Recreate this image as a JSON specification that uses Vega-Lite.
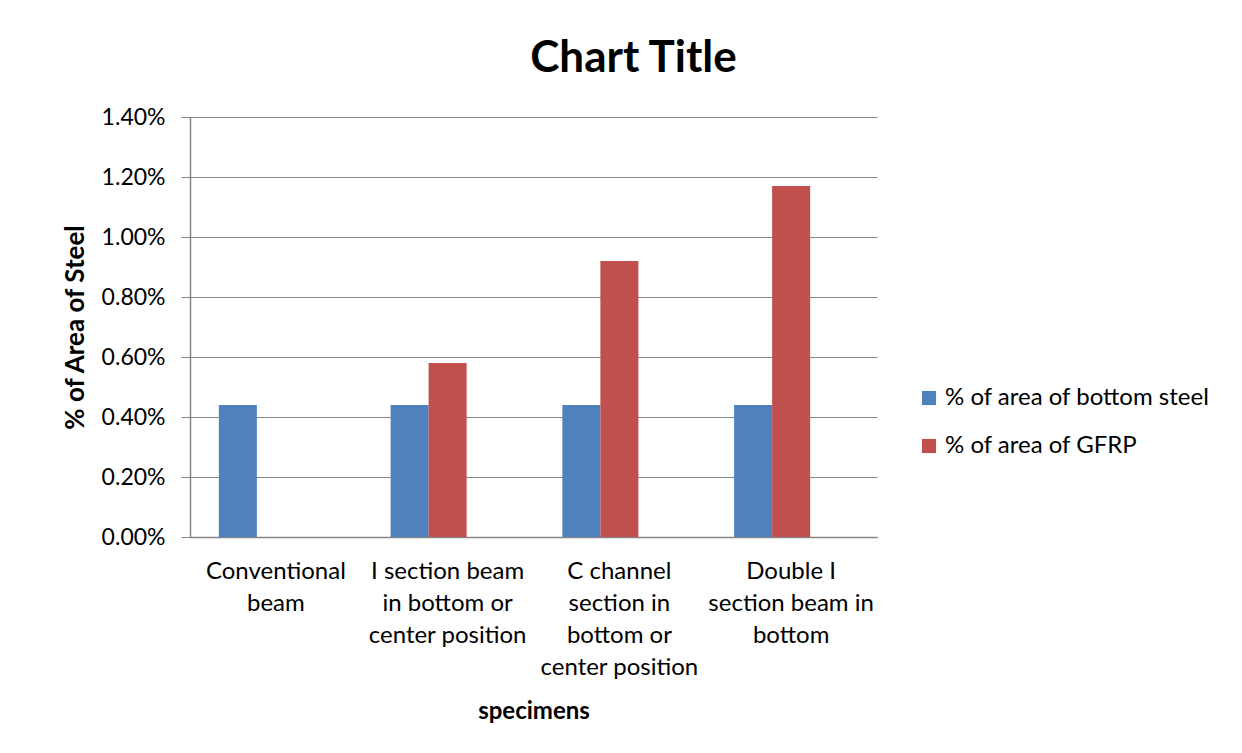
{
  "$schema": "https://vega.github.io/schema/vega-lite/v6.json",
  "width": 687,
  "height": 420,
  "autosize": {"type": "none"},
  "padding": {"left": 190, "top": 117, "right": 365, "bottom": 216},
  "background": "white",
  "title": {
    "text": "Chart Title",
    "anchor": "middle",
    "frame": "group",
    "dx": 100,
    "offset": 25,
    "font": "Lato",
    "fontSize": 44,
    "fontWeight": "bold",
    "color": "#000000"
  },
  "data": {
    "values": [
      {"specimen": "Conventional|beam", "series": "% of area of bottom steel", "value": 0.0044},
      {"specimen": "I section beam|in bottom or|center position", "series": "% of area of bottom steel", "value": 0.0044},
      {"specimen": "I section beam|in bottom or|center position", "series": "% of area of GFRP", "value": 0.0058},
      {"specimen": "C channel|section in|bottom or|center position", "series": "% of area of bottom steel", "value": 0.0044},
      {"specimen": "C channel|section in|bottom or|center position", "series": "% of area of GFRP", "value": 0.0092},
      {"specimen": "Double I|section beam in|bottom", "series": "% of area of bottom steel", "value": 0.0044},
      {"specimen": "Double I|section beam in|bottom", "series": "% of area of GFRP", "value": 0.0117}
    ]
  },
  "mark": {"type": "bar"},
  "encoding": {
    "x": {
      "field": "specimen",
      "type": "nominal",
      "sort": null,
      "scale": {"paddingInner": 0.336, "paddingOuter": 0.168},
      "axis": {
        "title": "specimens",
        "titleFont": "Lato",
        "titleFontSize": 24,
        "titleFontWeight": "bold",
        "titleColor": "#000000",
        "titlePadding": 20,
        "labelExpr": "split(datum.label, '|')",
        "labelAngle": 0,
        "labelFont": "Lato",
        "labelFontSize": 24,
        "labelColor": "#000000",
        "labelLineHeight": 32,
        "labelPadding": 22,
        "labelLimit": 300,
        "ticks": false,
        "domainColor": "#868686",
        "domainWidth": 1.5
      }
    },
    "xOffset": {
      "field": "series",
      "type": "nominal",
      "scale": {"domain": ["% of area of bottom steel", "% of area of GFRP", "blank"], "paddingInner": 0, "paddingOuter": 0}
    },
    "y": {
      "field": "value",
      "type": "quantitative",
      "scale": {"domain": [0, 0.014], "nice": false},
      "axis": {
        "title": "% of Area of Steel",
        "titleFont": "Lato",
        "titleFontSize": 26,
        "titleFontWeight": "bold",
        "titleColor": "#000000",
        "titlePadding": 13,
        "values": [0, 0.002, 0.004, 0.006, 0.008, 0.01, 0.012, 0.014],
        "format": ".2%",
        "labelFont": "Lato",
        "labelFontSize": 23,
        "labelColor": "#000000",
        "labelPadding": 16,
        "tickSize": 9,
        "tickColor": "#868686",
        "domainColor": "#868686",
        "domainWidth": 1.5,
        "grid": true,
        "gridColor": "#868686",
        "gridWidth": 1.2
      }
    },
    "color": {
      "field": "series",
      "type": "nominal",
      "scale": {"domain": ["% of area of bottom steel", "% of area of GFRP"], "range": ["#4F81BD", "#C0504D"]},
      "legend": {
        "title": null,
        "orient": "none",
        "legendX": 727,
        "legendY": 269,
        "symbolType": "square",
        "symbolSize": 200,
        "symbolStrokeWidth": 0,
        "labelFont": "Lato",
        "labelFontSize": 24,
        "labelColor": "#000000",
        "labelOffset": 4,
        "rowPadding": 24,
        "labelLimit": 400
      }
    }
  },
  "config": {
    "view": {"stroke": null}
  }
}
